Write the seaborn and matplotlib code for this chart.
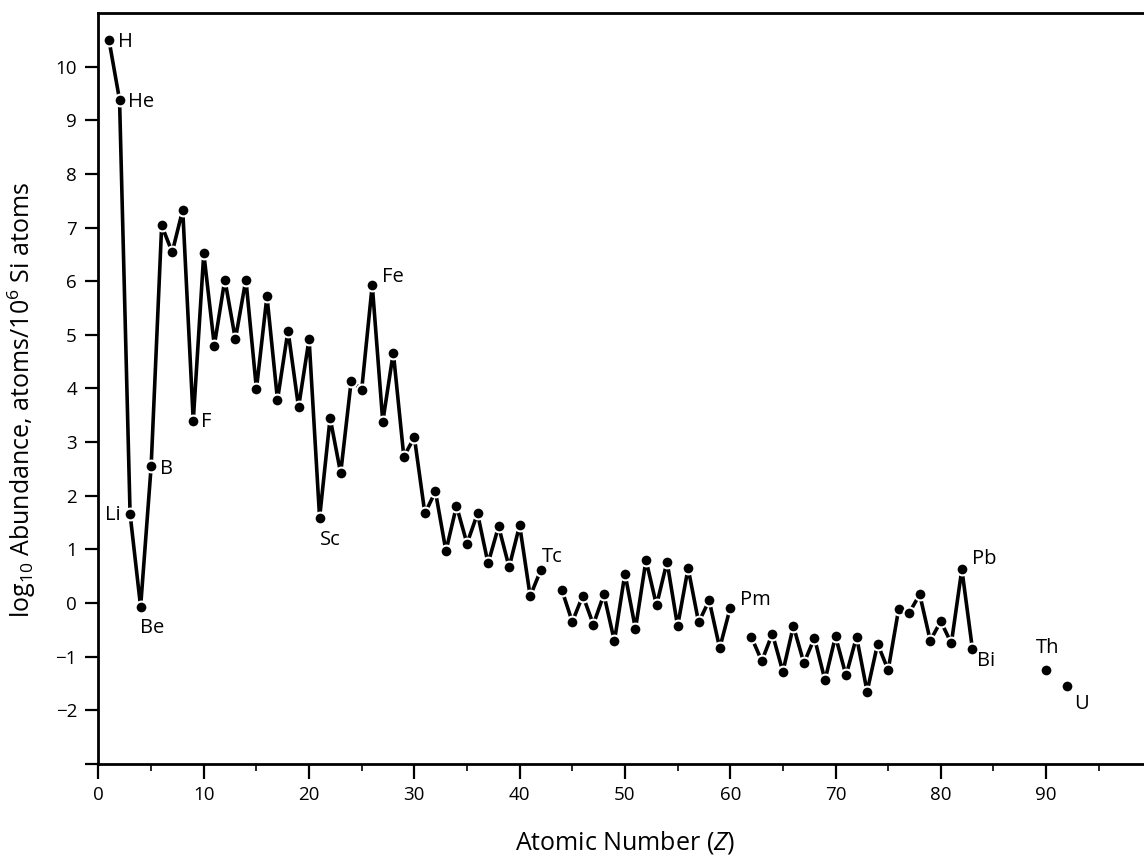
import numpy as np
import pandas as pd
import matplotlib
matplotlib.use("Agg")
import matplotlib.pyplot as plt
from matplotlib.ticker import FixedLocator
import seaborn as sns

# ---- data ----
atomic_number = list(range(1, 93))
log_abundance = [
    10.49, 9.38, 1.66, -0.07, 2.55, 7.04, 6.54, 7.33, 3.40, 6.52,      # 1-10
    4.80, 6.03, 4.92, 6.03, 3.99, 5.72, 3.79, 5.08, 3.65, 4.92,        # 11-20
    1.59, 3.45, 2.42, 4.14, 3.98, 5.93, 3.38, 4.67, 2.73, 3.09,        # 21-30
    1.67, 2.08, 0.97, 1.81, 1.11, 1.67, 0.74, 1.43, 0.67, 1.45,        # 31-40
    0.13, 0.61, np.nan, 0.25, -0.35, 0.14, -0.40, 0.16, -0.71, 0.55,   # 41-50
    -0.48, 0.80, -0.04, 0.77, -0.43, 0.65, -0.36, 0.05, -0.84, -0.09,  # 51-60
    np.nan, -0.63, -1.08, -0.57, -1.28, -0.43, -1.12, -0.65, -1.44, -0.62,  # 61-70
    -1.35, -0.63, -1.65, -0.76, -1.25, -0.11, -0.18, 0.16, -0.70, -0.34,    # 71-80
    -0.75, 0.63, -0.85, np.nan, np.nan, np.nan, np.nan, np.nan, np.nan, -1.25,  # 81-90
    np.nan, -1.55,                                                      # 91-92
]

label_text = ["H", "He", "Li", "Be", "B", "F", "Sc", "Fe", "Tc", "Pm", "Pb", "Bi", "Th", "U"]
label_anchor_z = [1, 2, 3, 4, 5, 9, 21, 26, 42, 60, 82, 83, 90, 92]

x_ticks = [0, 10, 20, 30, 40, 50, 60, 70, 80, 90]
y_ticks = [-3, -2, -1, 0, 1, 2, 3, 4, 5, 6, 7, 8, 9, 10]
y_ticklabels = ["", "\u22122", "\u22121", "0", "1", "2", "3", "4", "5", "6", "7", "8", "9", "10"]

# ---- frame ----
df = pd.DataFrame({"Z": atomic_number, "val": log_abundance})
df["seg"] = df["val"].isna().cumsum()
df = df.dropna()

sns.set_theme(style="white")
plt.rcParams["font.family"] = ["Open Sans", "DejaVu Sans"]
plt.rcParams["mathtext.fontset"] = "custom"
plt.rcParams["mathtext.rm"] = "Open Sans"
plt.rcParams["mathtext.it"] = "Open Sans:italic"
plt.rcParams["mathtext.default"] = "regular"

fig = plt.figure(figsize=(11.44, 8.59), dpi=100)
ax = fig.add_axes([0.0861, 0.1106, 0.9139, 0.8743])

sns.lineplot(data=df, x="Z", y="val", units="seg", estimator=None,
             color="black", linewidth=2.6, ax=ax, legend=False)
sns.scatterplot(data=df, x="Z", y="val", color="black", s=72,
                edgecolor="white", linewidth=1.5, ax=ax, zorder=5, legend=False)

# labels
offsets = {
    "H": (9, -2, "left", "center"),
    "He": (8, -2, "left", "center"),
    "Li": (-9, -1, "right", "center"),
    "Be": (-1, -21, "left", "center"),
    "B": (9, -3, "left", "center"),
    "F": (8, -1, "left", "center"),
    "Sc": (0, -22, "left", "center"),
    "Fe": (10, 8, "left", "center"),
    "Tc": (1, 13, "left", "center"),
    "Pm": (10, 8, "left", "center"),
    "Pb": (10, 10, "left", "center"),
    "Bi": (5, -12, "left", "center"),
    "Th": (2, 22, "center", "center"),
    "U": (7, -18, "left", "center"),
}
vals = dict(zip(atomic_number, log_abundance))
for txt, z in zip(label_text, label_anchor_z):
    dx, dy, ha, va = offsets[txt]
    ax.annotate(txt, xy=(z, vals[z]), xytext=(dx, dy), textcoords="offset pixels",
                ha=ha, va=va, fontsize=14.5, color="black")

# axes styling
ax.set_xlim(0, 99.3)
ax.set_ylim(-3, 11)
ax.xaxis.set_major_locator(FixedLocator(x_ticks))
ax.xaxis.set_minor_locator(FixedLocator([5, 15, 25, 35, 45, 55, 65, 75, 85, 95]))
ax.set_xticklabels([str(t) for t in x_ticks])
ax.set_yticks(y_ticks)
ax.set_yticklabels(y_ticklabels)
ax.tick_params(axis="x", which="major", direction="out", length=11, width=1.6,
               labelsize=13.5, pad=5, bottom=True, colors="black")
ax.tick_params(axis="x", which="minor", direction="out", length=5, width=1.4, bottom=True)
ax.tick_params(axis="y", which="major", direction="out", length=9.5, width=1.6,
               labelsize=13.5, pad=6, left=True, colors="black")

for s in ["left", "bottom", "top"]:
    ax.spines[s].set_visible(True)
    ax.spines[s].set_color("black")
    ax.spines[s].set_linewidth(2.0)
ax.spines["right"].set_visible(False)

ax.set_xlabel("Atomic Number ($\\it{Z}$)", fontsize=18, color="black", va="center")
ax.set_ylabel("log$_{10}$ Abundance, atoms/10$^{6}$ Si atoms", fontsize=18,
              color="black", va="center")
ax.xaxis.set_label_coords(0.5036, -0.105)
ax.yaxis.set_label_coords(-0.0735, 0.485)

fig.savefig("out.png", dpi=100)
